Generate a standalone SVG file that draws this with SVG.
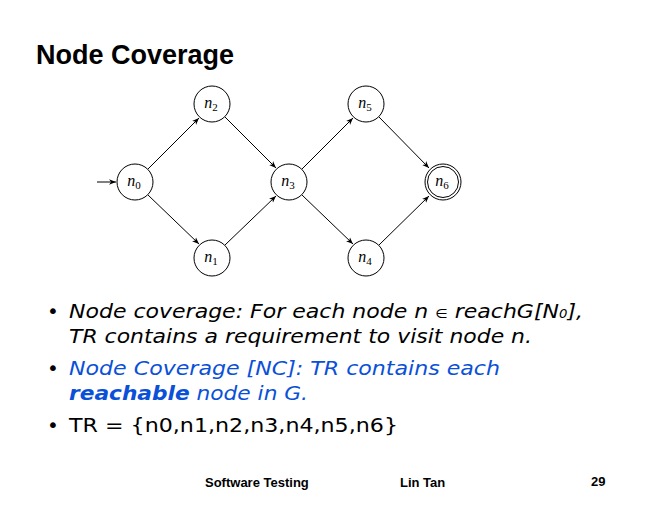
<svg xmlns="http://www.w3.org/2000/svg" width="660" height="510" viewBox="0 0 660 510">
  <defs>
    <marker id="arr" viewBox="0 0 10 10" refX="10" refY="5" markerWidth="7" markerHeight="7" markerUnits="userSpaceOnUse" orient="auto">
      <path d="M0,1 L10,5 L0,9 L3,5 z" fill="#000"/>
    </marker>
    <style>
      .node circle { fill: #fff; stroke: #000; stroke-width: 1; }
      .lbl { font-family: "Liberation Serif", serif; font-style: italic; font-size: 16px; text-anchor: middle; }
      .sub { font-style: normal; font-size: 11px; }
      .edge { stroke: #000; stroke-width: 1; fill: none; marker-end: url(#arr); }
      .body { font-family: "DejaVu Sans", Verdana, sans-serif; font-size: 20px; }
      .foot { font-family: "Liberation Sans", Arial, sans-serif; font-weight: bold; font-size: 13px; }
    </style>
  </defs>
  <rect width="660" height="510" fill="#fff"/>

  <text x="36" y="64" font-family="Liberation Sans, Arial, sans-serif" font-weight="bold" font-size="27">Node Coverage</text>

  <!-- connectors -->
  <g id="edges">
    <line class="edge" x1="97" y1="182" x2="116" y2="182"/>
    <line class="edge" x1="148" y1="169" x2="199" y2="118"/>
    <line class="edge" x1="148" y1="195" x2="199" y2="244"/>
    <line class="edge" x1="225" y1="117" x2="276" y2="168"/>
    <line class="edge" x1="225" y1="245" x2="276" y2="196"/>
    <line class="edge" x1="302" y1="169" x2="353" y2="118"/>
    <line class="edge" x1="302" y1="195" x2="353" y2="244"/>
    <line class="edge" x1="379" y1="117" x2="429" y2="168"/>
    <line class="edge" x1="379" y1="245" x2="429" y2="196"/>
  </g>

  <!-- nodes -->
  <g id="n0" class="node"><circle cx="135" cy="182" r="18"/><text class="lbl" x="134" y="186">n<tspan class="sub" dy="3">0</tspan></text></g>
  <g id="n1" class="node"><circle cx="212" cy="258" r="18"/><text class="lbl" x="211" y="262">n<tspan class="sub" dy="3">1</tspan></text></g>
  <g id="n2" class="node"><circle cx="212" cy="104" r="18"/><text class="lbl" x="211" y="108">n<tspan class="sub" dy="3">2</tspan></text></g>
  <g id="n3" class="node"><circle cx="289" cy="182" r="18"/><text class="lbl" x="288" y="186">n<tspan class="sub" dy="3">3</tspan></text></g>
  <g id="n4" class="node"><circle cx="366" cy="258" r="18"/><text class="lbl" x="365" y="262">n<tspan class="sub" dy="3">4</tspan></text></g>
  <g id="n5" class="node"><circle cx="366" cy="104" r="18"/><text class="lbl" x="365" y="108">n<tspan class="sub" dy="3">5</tspan></text></g>
  <g id="n6" class="node"><circle cx="443" cy="182" r="18"/><circle cx="443" cy="182" r="15.5"/><text class="lbl" x="442" y="186">n<tspan class="sub" dy="3">6</tspan></text></g>

  <!-- bullet list -->
  <g class="body">
    <text x="47" y="318">•</text>
    <text x="69" y="318" font-style="italic" textLength="514" lengthAdjust="spacingAndGlyphs">Node coverage: For each node n <tspan font-style="normal" font-size="13">∈</tspan> reachG[N<tspan font-size="12">0</tspan>],</text>
    <text x="69" y="343" font-style="italic" textLength="463" lengthAdjust="spacingAndGlyphs">TR contains a requirement to visit node n.</text>
    <text x="47" y="375">•</text>
    <text x="69" y="375" font-style="italic" fill="#0a50d8" textLength="431" lengthAdjust="spacingAndGlyphs">Node Coverage [NC]: TR contains each</text>
    <text x="69" y="400" font-style="italic" fill="#0a50d8" textLength="239" lengthAdjust="spacingAndGlyphs"><tspan font-weight="bold">reachable</tspan> node in G.</text>
    <text x="47" y="432">•</text>
    <text x="69" y="432" textLength="329" lengthAdjust="spacingAndGlyphs">TR = {n0,n1,n2,n3,n4,n5,n6}</text>
  </g>

  <!-- footer -->
  <text class="foot" x="205" y="487">Software Testing</text>
  <text class="foot" x="400" y="487">Lin Tan</text>
  <text class="foot" x="591" y="486">29</text>
</svg>
